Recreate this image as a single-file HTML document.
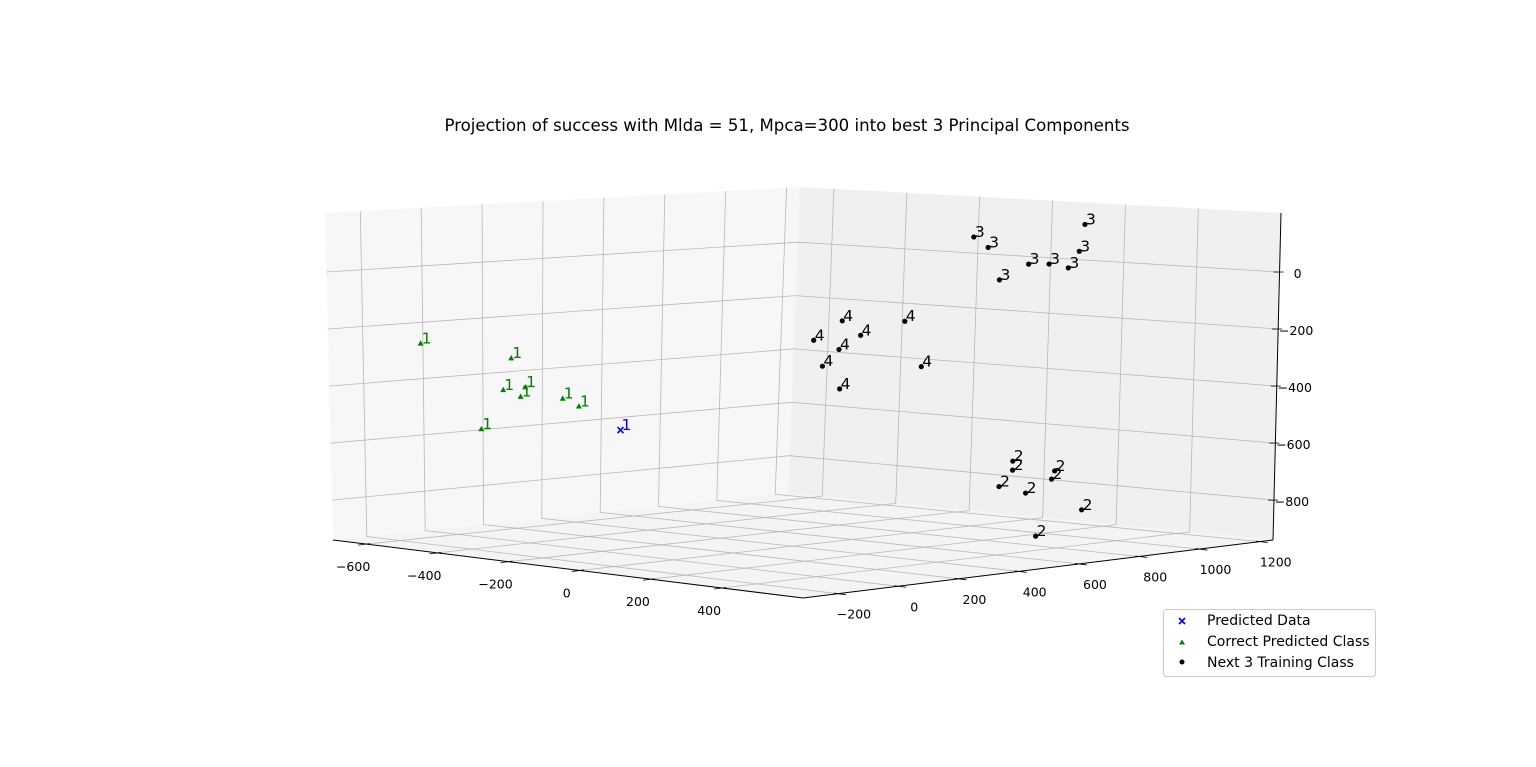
<!DOCTYPE html>
<html><head><meta charset="utf-8">
<style>
html,body{margin:0;padding:0;background:#fff;}
svg{display:block;font-family:"DejaVu Sans","Liberation Sans",sans-serif;}
</style></head>
<body>
<svg id="chart" width="1536" height="767" viewBox="0 0 1536 767">
<text x="787" y="131" text-anchor="middle" font-size="16.6" fill="#000">Projection of success with Mlda = 51, Mpca=300 into best 3 Principal Components</text>
<g id="panes"></g>
<g id="grid"></g>
<g id="axes"></g>
<g id="marks"></g>
<g>
<rect x="1163.5" y="609.5" width="212" height="67" rx="3" fill="#fff" stroke="#ccc"/>
<g>
<path d="M1179,618 l6,6 M1185,618 l-6,6" stroke="#0000ff" stroke-width="1.6"/>
<text x="1207" y="625" font-size="14">Predicted Data</text></g>
<g>
<path d="M1182,639.5 l3,5 l-6,0 z" fill="#008000"/>
<text x="1207" y="646" font-size="14">Correct Predicted Class</text></g>
<g>
<circle cx="1182" cy="662" r="2.5" fill="#000"/>
<text x="1207" y="667" font-size="14">Next 3 Training Class</text></g>
</g>
</svg>
<script>
// axis ranges
const xRange = [-693, 627];
const yRange = [-316, 1244];
const zRange = [-940, 207];
const xTicks = [-600, -400, -200, 0, 200, 400];
const yTicks = [-200, 0, 200, 400, 600, 800, 1000, 1200];
const zTicks = [-800, -600, -400, -200, 0];
// data: class 1 (correct predicted)
const c1X = [-686, -435, -458, -397, -410, -293, -248, -520];
const c1Y = [-16, -16, -16, -16, -16, -16, -16, -16];
const c1Z = [-273, -295, -409, -392, -427, -419, -440, -555];
// predicted point
const predX = [-133];
const predY = [-16];
const predZ = [-508];
// class 4
const c4X = [-98, -20, 31, -28, 152, -73, -25, 199];
const c4Y = [584, 584, 584, 584, 584, 584, 584, 584];
const c4Z = [-246, -169, -215, -271, -153, -335, -410, -307];
// class 3
const c3X = [4, 44, 156, 212, 77, 308, 294, 265];
const c3Y = [984, 984, 984, 984, 984, 984, 984, 984];
const c3Z = [97, 63, 13, 18, -50, 166, 70, 9];
// class 2
const c2X = [125, 125, 89, 162, 240, 232, 316, 192];
const c2Y = [984, 984, 984, 984, 984, 984, 984, 984];
const c2Z = [-691, -723, -786, -800, -712, -742, -840, -949];

const NS = "http://www.w3.org/2000/svg";
const cb = {L:[333,540], F:[803,598], R:[1273,540], B:[788,493]};
const ct = {L:[325,213], F:[803,253], R:[1281,213], B:[800,187]};
function bil(c, s, t){
  const x = c.L[0]*(1-s)*(1-t)+c.F[0]*s*(1-t)+c.R[0]*s*t+c.B[0]*(1-s)*t;
  const y = c.L[1]*(1-s)*(1-t)+c.F[1]*s*(1-t)+c.R[1]*s*t+c.B[1]*(1-s)*t;
  return [x,y];
}
function proj(x, y, z){
  const s=(x-xRange[0])/(xRange[1]-xRange[0]);
  const t=(y-yRange[0])/(yRange[1]-yRange[0]);
  const u=(z-zRange[0])/(zRange[1]-zRange[0]);
  const b=bil(cb,s,t), tp=bil(ct,s,t);
  return [b[0]+(tp[0]-b[0])*u, b[1]+(tp[1]-b[1])*u];
}
function el(tag, attrs, parent){
  const e=document.createElementNS(NS,tag);
  for(const k in attrs) e.setAttribute(k, attrs[k]);
  parent.appendChild(e); return e;
}
function poly(pts){return pts.map(p=>p[0].toFixed(1)+","+p[1].toFixed(1)).join(" ");}
const panes=document.getElementById("panes");
const grid=document.getElementById("grid");
const axes=document.getElementById("axes");
const marks=document.getElementById("marks");
const [x0,x1]=xRange,[y0,y1]=yRange,[z0,z1]=zRange;

let p;
p=el("polygon",{points:poly([proj(x0,y0,z0),proj(x0,y1,z0),proj(x0,y1,z1),proj(x0,y0,z1)]),fill:"#f7f7f7"},panes);


p=el("polygon",{points:poly([proj(x0,y1,z0),proj(x1,y1,z0),proj(x1,y1,z1),proj(x0,y1,z1)]),fill:"#f0f0f0"},panes);


p=el("polygon",{points:poly([proj(x0,y0,z0),proj(x1,y0,z0),proj(x1,y1,z0),proj(x0,y1,z0)]),fill:"#f4f4f4"},panes);



const gs={fill:"none",stroke:"#b8b8b8","stroke-width":"0.8"};
xTicks.forEach(v=>{
  const l=el("polyline",Object.assign({points:poly([proj(v,y0,z0),proj(v,y1,z0),proj(v,y1,z1)])},gs),grid);
  
  
});
yTicks.forEach(v=>{
  const l=el("polyline",Object.assign({points:poly([proj(x1,v,z0),proj(x0,v,z0),proj(x0,v,z1)])},gs),grid);
  
  
});
zTicks.forEach(v=>{
  const l=el("polyline",Object.assign({points:poly([proj(x0,y0,v),proj(x0,y1,v),proj(x1,y1,v)])},gs),grid);
  
  
});

let a;
a=el("line",{x1:proj(x0,y0,z0)[0],y1:proj(x0,y0,z0)[1],x2:proj(x1,y0,z0)[0],y2:proj(x1,y0,z0)[1],stroke:"#000","stroke-width":"1"},axes);


a=el("line",{x1:proj(x1,y0,z0)[0],y1:proj(x1,y0,z0)[1],x2:proj(x1,y1,z0)[0],y2:proj(x1,y1,z0)[1],stroke:"#000","stroke-width":"1"},axes);


a=el("line",{x1:proj(x1,y1,z0)[0],y1:proj(x1,y1,z0)[1],x2:proj(x1,y1,z1)[0],y2:proj(x1,y1,z1)[1],stroke:"#000","stroke-width":"1"},axes);



function label(txt,x,y,anchor,name){
  const t=el("text",{x:x,y:y,"font-size":"12.5","text-anchor":anchor,fill:"#000"},axes);
  t.textContent=txt.replace("-","\u2212");
  
  
}
xTicks.forEach(v=>{
  const q=proj(v,y0,z0);
  const tk=el("line",{x1:q[0]-8,y1:q[1]+1,x2:q[0]+4,y2:q[1]-0.5,stroke:"#000","stroke-width":"0.8"},axes);
  
  
  label(String(v),q[0]-13,q[1]+27,"middle","x-tick-label");
});
yTicks.forEach(v=>{
  const q=proj(x1,v,z0);
  const tk=el("line",{x1:q[0]-4,y1:q[1]-0.5,x2:q[0]+8,y2:q[1]+1,stroke:"#000","stroke-width":"0.8"},axes);
  
  
  label(String(v),q[0]+16,q[1]+25,"middle","y-tick-label");
});
zTicks.forEach(v=>{
  const q=proj(x1,y1,v);
  const tk=el("line",{x1:q[0]-6,y1:q[1],x2:q[0]+4,y2:q[1],stroke:"#000","stroke-width":"0.8"},axes);
  
  
  label(String(v),q[0]+18,q[1]+6,"middle","z-tick-label");
});

function annot(q,txt,color){
  const t=el("text",{x:q[0]+1,y:q[1]+0,"font-size":"15.5",fill:color},marks);
  t.textContent=txt;
  
  
}
function dots(X,Y,Z,txt,name){
  X.forEach((v,i)=>{
    const q=proj(v,Y[i],Z[i]);
    const c=el("circle",{cx:q[0],cy:q[1],r:"2.6",fill:"#000"},marks);
    
    
    annot(q,txt,"#000");
  });
}
c1X.forEach((v,i)=>{
  const q=proj(v,c1Y[i],c1Z[i]);
  const t=el("polygon",{points:poly([[q[0],q[1]-3.2],[q[0]+3,q[1]+2.2],[q[0]-3,q[1]+2.2]]),fill:"#008000"},marks);
  
  
  annot(q,"1","#008000");
});
predX.forEach((v,i)=>{
  const q=proj(v,predY[i],predZ[i]);
  const m=el("path",{d:`M${q[0]-3},${q[1]-3} l6,6 M${q[0]+3},${q[1]-3} l-6,6`,stroke:"#0000ff","stroke-width":"1.6"},marks);
  
  
  annot(q,"1","#0000ff");
});
dots(c4X,c4Y,c4Z,"4","class-4-point");
dots(c3X,c3Y,c3Z,"3","class-3-point");
dots(c2X,c2Y,c2Z,"2","class-2-point");
</script>
</body></html>
